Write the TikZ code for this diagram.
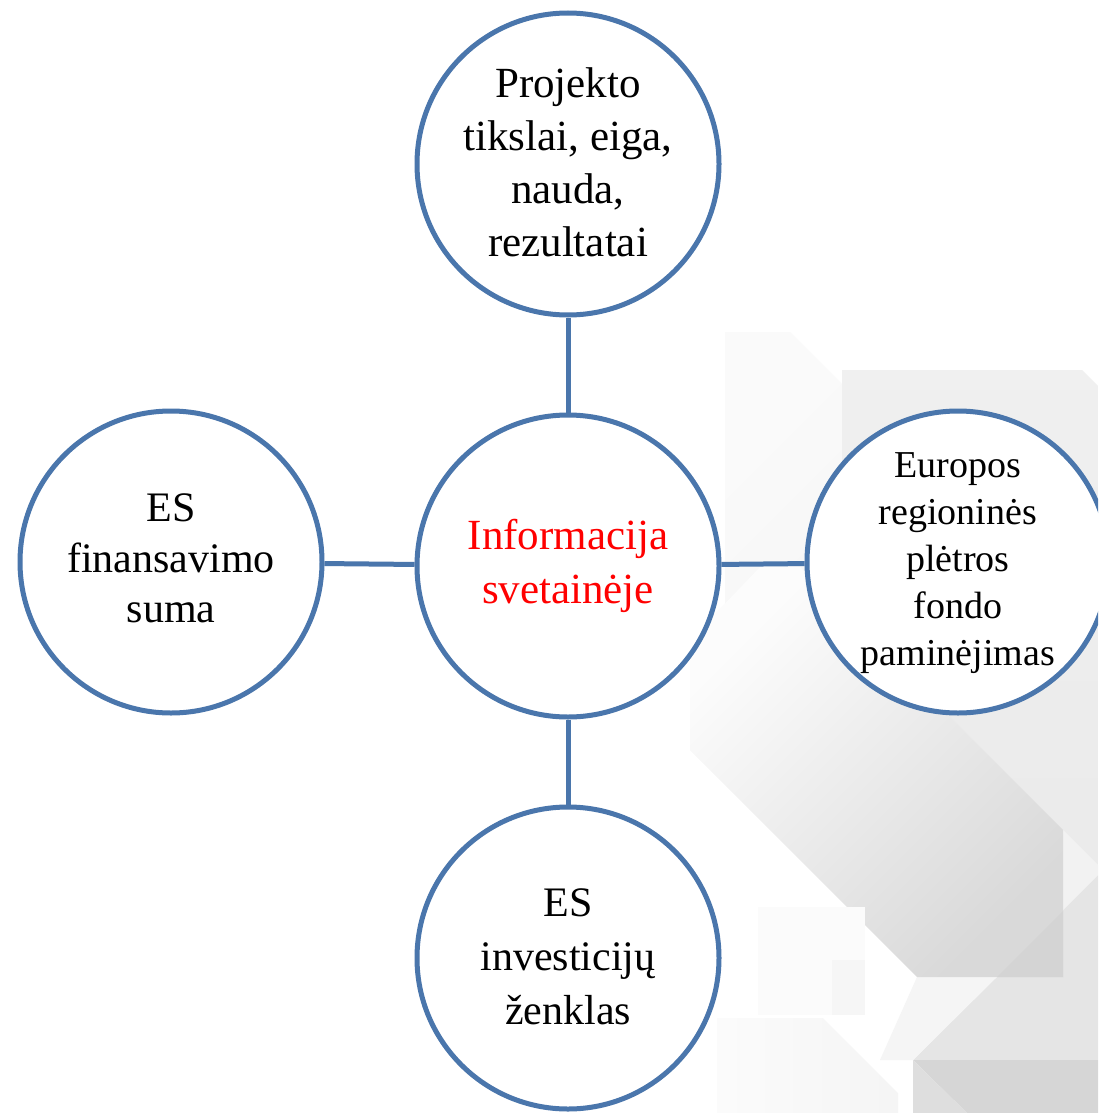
\documentclass[tikz,border=0pt]{standalone}
\usepackage{fontspec}
\setmainfont{Liberation Serif}
\definecolor{ringblue}{RGB}{74,118,172}
\begin{document}
\begin{tikzpicture}[x=1pt,y=-1pt,
  bubble/.style={circle, draw=ringblue, line width=5pt, fill=white, minimum size=302pt, inner sep=0pt},
  link/.style={draw=ringblue, line width=5pt},
  lbl/.style={align=center, inner sep=0pt, text=black}]
\useasboundingbox (0,0) rectangle (1098,1113);
\clip (0,0) rectangle (1098,1113);
% background watermark
\fill[white] (0,0) rectangle (1098,1113);
\shade[top color=white!98!black, bottom color=white!93!black, shading angle=45]
  (725,332) -- (790,332) -- (1098,640) -- (1098,1113) -- (1053,1113) -- (690,750) -- (690,690) -- (725,655) -- cycle;
\shade[top color=white!94!black, bottom color=white!92!black]
  (842,370) -- (1082,370) -- (1098,386) -- (1098,865) -- (842,609) -- cycle;
\fill[white!90!black] (913,1060) -- (1098,875) -- (1098,1060) -- cycle;
\fill[white!95!black] (1063,830) -- (1098,865) -- (1098,875) -- (1063,910) -- cycle;
\fill[white!96!black] (917,977) -- (997,977) -- (913,1060) -- (880,1060) -- cycle;
\shade[top color=white!99!black, bottom color=white!85!black, shading angle=45]
  (690,750) -- (917,977) -- (1063,977) -- (1063,830) -- (800,567) -- (760,567) -- (690,640) -- cycle;
\fill[white!83!black] (997,977) -- (1063,977) -- (1063,911) -- cycle;
\fill[white!84!black] (913,1060) -- (1098,1060) -- (1098,1113) -- (967,1113) -- cycle;
\fill[white!87!black] (913,1060) -- (967,1113) -- (913,1113) -- cycle;
\fill[white!98.5!black] (758,907) -- (865,907) -- (865,1015) -- (758,1015) -- cycle;
\fill[white!96.5!black] (832,960) -- (865,960) -- (865,1015) -- (832,1015) -- cycle;
\shade[left color=white!98.5!black, right color=white!96!black]
  (717,1018) -- (823,1018) -- (898,1093) -- (898,1113) -- (717,1113) -- cycle;
% circles
\node[bubble] (hub) at (568,566) {};
\node[bubble] (top) at (568,164) {};
\node[bubble] (left) at (171,562) {};
\node[bubble] (right) at (958,562) {};
\node[bubble] (bottom) at (568,958) {};
% connectors
\draw[link] (hub) -- (top);
\draw[link] (hub) -- (left);
\draw[link] (hub) -- (right);
\draw[link] (hub) -- (bottom);
% labels
\node[lbl, text=red, font=\fontsize{43}{54}\selectfont] (thub) at (568,565.5) {Informacija\\svetainėje};
\node[lbl, font=\fontsize{43}{53}\selectfont] (ttop) at (568,162.5) {Projekto\\tikslai, eiga,\\nauda,\\rezultatai};
\node[lbl, font=\fontsize{42}{50.5}\selectfont] (tleft) at (171,558.5) {ES\\finansavimo\\suma};
\node[lbl, font=\fontsize{38}{47}\selectfont] (tright) at (958,563) {Europos\\regioninės\\plėtros\\fondo\\paminėjimas};
\node[lbl, font=\fontsize{42}{54}\selectfont] (tbottom) at (568,957) {ES\\investicijų\\ženklas};
\end{tikzpicture}
\end{document}
